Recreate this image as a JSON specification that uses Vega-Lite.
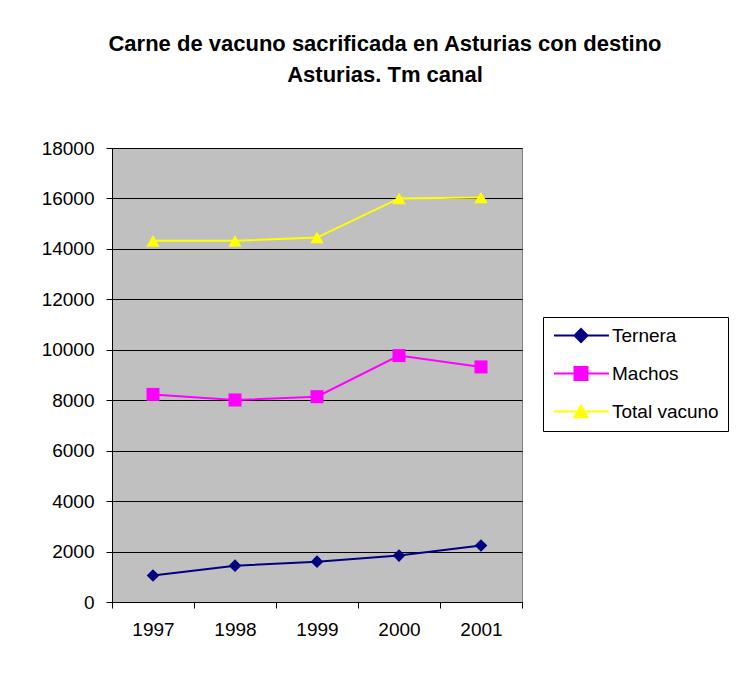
{
  "$schema": "https://vega.github.io/schema/vega-lite/v6.json",
  "autosize": {"type": "none"},
  "padding": {"left": 112, "top": 148, "right": 220, "bottom": 71},
  "width": 410,
  "height": 454,
  "background": "white",
  "title": {
    "text": ["Carne de vacuno sacrificada en Asturias con destino", "Asturias. Tm canal"],
    "font": "Liberation Sans",
    "fontSize": 22,
    "fontWeight": "bold",
    "color": "black",
    "anchor": "middle",
    "dx": 68,
    "lineHeight": 31,
    "baseline": "bottom",
    "offset": 30
  },
  "config": {
    "view": {"fill": "#C0C0C0", "stroke": "#808080", "strokeWidth": 1},
    "axis": {
      "labelFont": "Liberation Sans",
      "labelFontSize": 19,
      "labelColor": "black",
      "domainColor": "black",
      "tickColor": "black",
      "tickSize": 6,
      "gridColor": "black",
      "gridOpacity": 1,
      "gridWidth": 1,
      "title": null
    }
  },
  "data": {
    "values": [
      {"year": "1997", "series": "Ternera", "value": 1050},
      {"year": "1998", "series": "Ternera", "value": 1440},
      {"year": "1999", "series": "Ternera", "value": 1600},
      {"year": "2000", "series": "Ternera", "value": 1840},
      {"year": "2001", "series": "Ternera", "value": 2240},
      {"year": "1997", "series": "Machos", "value": 8230},
      {"year": "1998", "series": "Machos", "value": 8010},
      {"year": "1999", "series": "Machos", "value": 8140},
      {"year": "2000", "series": "Machos", "value": 9770},
      {"year": "2001", "series": "Machos", "value": 9320},
      {"year": "1997", "series": "Total vacuno", "value": 14320},
      {"year": "1998", "series": "Total vacuno", "value": 14320},
      {"year": "1999", "series": "Total vacuno", "value": 14450},
      {"year": "2000", "series": "Total vacuno", "value": 16000},
      {"year": "2001", "series": "Total vacuno", "value": 16040}
    ]
  },
  "encoding": {
    "x": {
      "field": "year",
      "type": "ordinal",
      "bandPosition": 0.5,
      "scale": {"type": "band", "paddingInner": 0, "paddingOuter": 0},
      "axis": {"labelAngle": 0, "tickBand": "extent", "grid": false, "labelPadding": 12, "domainWidth": 1}
    },
    "y": {
      "field": "value",
      "type": "quantitative",
      "scale": {"domain": [0, 18000], "nice": false},
      "axis": {"values": [0, 2000, 4000, 6000, 8000, 10000, 12000, 14000, 16000, 18000], "grid": true, "labelPadding": 12, "format": "d"}
    },
    "color": {
      "field": "series",
      "type": "nominal",
      "scale": {"domain": ["Ternera", "Machos", "Total vacuno"], "range": ["#000080", "#FF00FF", "#FFFF00"]},
      "legend": null
    }
  },
  "resolve": {"scale": {"color": "independent", "shape": "independent", "size": "independent", "stroke": "independent"}},
  "layer": [
    {"mark": {"type": "line", "strokeWidth": 2}},
    {
      "mark": {"type": "point", "filled": true, "opacity": 1},
      "encoding": {
        "shape": {
          "field": "series",
          "type": "nominal",
          "scale": {"domain": ["Ternera", "Machos", "Total vacuno"], "range": ["diamond", "square", "triangle-up"]},
          "legend": null
        },
        "size": {
          "field": "series",
          "type": "nominal",
          "scale": {"domain": ["Ternera", "Machos", "Total vacuno"], "range": [160, 180, 210]},
          "legend": null
        }
      }
    },
    {
      "transform": [{"filter": "false"}],
      "mark": {"type": "point", "filled": true, "opacity": 1, "strokeWidth": 2},
      "encoding": {
        "color": {
          "field": "series",
          "type": "nominal",
          "scale": {"domain": ["Ternera", "Machos", "Total vacuno"], "range": ["#000080", "#FF00FF", "#FFFF00"]},
          "legend": {
            "orient": "none",
            "legendX": 431,
            "legendY": 169,
            "title": null,
            "strokeColor": "black",
            "fillColor": "white",
            "padding": 9,
            "labelFont": "Liberation Sans",
            "labelFontSize": 19,
            "labelColor": "black",
            "rowPadding": 17,
            "symbolSize": 169,
            "symbolStrokeWidth": 2,
            "symbolOpacity": 1,
            "labelOffset": 41
          }
        },
        "stroke": {
          "field": "series",
          "type": "nominal",
          "scale": {"domain": ["Ternera", "Machos", "Total vacuno"], "range": ["#000080", "#FF00FF", "#FFFF00"]}
        },
        "shape": {
          "field": "series",
          "type": "nominal",
          "scale": {"domain": ["Ternera", "Machos", "Total vacuno"], "range": ["M-1.15,0H7.3M3,-1L4,0L3,1L2,0Z", "M-1.15,0H7.3M2,-1H4V1H2Z", "M-1.15,0H7.3M2,0.866H4L3,-0.866Z"]}
        }
      }
    }
  ]
}
